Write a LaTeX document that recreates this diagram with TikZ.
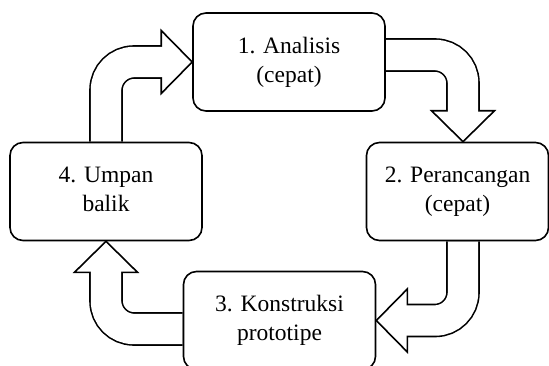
\documentclass[tikz,border=0pt]{standalone}
\usepackage{fontspec}
\setmainfont{Liberation Serif}
\usetikzlibrary{calc,backgrounds}

\tikzset{
  box/.style={draw, line width=1.6pt, rounded corners=13pt, align=center,
    minimum width=192pt, minimum height=98pt, inner sep=0pt,
    font=\fontsize{23.5}{29}\selectfont,
    execute at begin node=\rule{0pt}{21pt},
    execute at end node=\rule[-5pt]{0pt}{5pt}},
  shaft/.style={line width=33.6pt, rounded corners=28pt},
  head/.style={fill=white, draw=black, line width=1.6pt, line join=miter}
}

% #1 start, #2 bend, #3 tip
\newcommand{\bendarrow}[3]{
  \coordinate (bend) at (#2);
  \coordinate (hb) at ($(#3)!31pt!(bend)$);
  \coordinate (he) at ($(#3)!28pt!(bend)$);
  \draw[shaft] (#1) -- (bend) -- (he);
  \filldraw[head] ($(hb)!31.5pt!90:(#3)$) -- (#3) -- ($(hb)!31.5pt!-90:(#3)$) -- cycle;
  \draw[shaft, white, line width=30.4pt] (#1) -- (bend) -- (he);
}

\begin{document}
\begin{tikzpicture}[x=1pt, y=-1pt]
\useasboundingbox (0,0) rectangle (549,365);
\node[box] (ana) at (289,62) {1. Analisis\\(cepat)};
\node[box, minimum width=182pt] (peran) at (457.5,191.5) {2. Perancangan\\(cepat)};
\node[box] (konst) at (279.5,320.5) {3. Konstruksi\\prototipe};
\node[box] (umpan) at (106,191.5) {4. Umpan\\balik};
\coordinate (a1s) at ($(ana.east)+(0,-7)$);
\coordinate (a1t) at ($(peran.north)+(5.5,0)$);
\coordinate (a2s) at ($(peran.south)+(5.5,0)$);
\coordinate (a3s) at ($(konst.west)+(0,8.5)$);
\begin{scope}[on background layer]
\bendarrow{a1s}{a1s -| a1t}{a1t}
\bendarrow{a2s}{a2s |- konst.east}{konst.east}
\bendarrow{a3s}{a3s -| umpan.south}{umpan.south}
\bendarrow{umpan.north}{umpan.north |- ana.west}{ana.west}
\end{scope}
\end{tikzpicture}
\end{document}
